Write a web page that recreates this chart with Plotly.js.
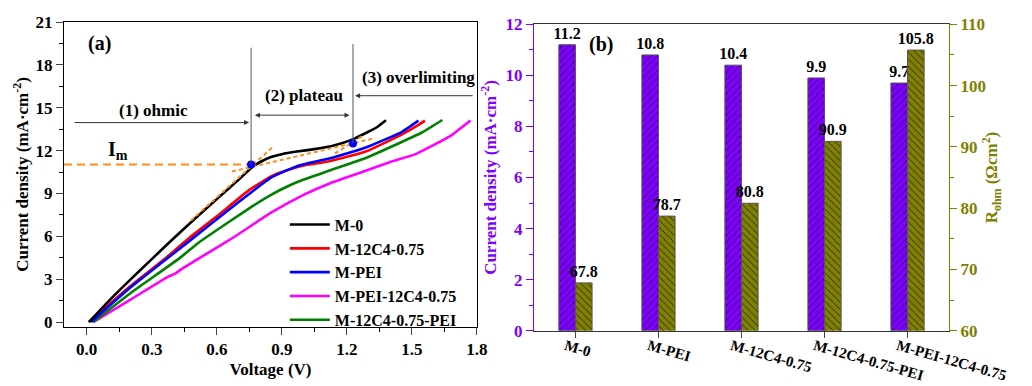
<!DOCTYPE html>
<html>
<head>
<meta charset="utf-8">
<script src="https://cdn.plot.ly/plotly-3.0.1.min.js"></script>
<style>
  html, body { margin: 0; padding: 0; background: #fff; }
  #chart { width: 1032px; height: 386px; }
</style>
</head>
<body>
<div id="chart"></div>
<script>
// ---------- (a) polarization curves: voltage (V) vs current density (mA·cm-2) ----------
const m0V = [0.01, 0.10, 0.20, 0.30, 0.40, 0.50, 0.60, 0.70, 0.76, 0.80, 0.85, 0.90, 0.97, 1.05, 1.14, 1.23, 1.29, 1.34, 1.38];
const m0J = [0.00, 1.45, 2.95, 4.40, 5.85, 7.25, 8.60, 9.95, 10.80, 11.20, 11.55, 11.75, 11.93, 12.10, 12.35, 12.80, 13.25, 13.65, 14.12];

const m12c4V = [0.01, 0.20, 0.35, 0.47, 0.60, 0.75, 0.85, 0.92, 1.00, 1.12, 1.29, 1.45, 1.53, 1.56];
const m12c4J = [0.00, 2.50, 4.30, 5.85, 7.40, 9.25, 10.20, 10.60, 10.95, 11.25, 11.95, 13.10, 13.80, 14.10];

const mPeiV = [0.02, 0.20, 0.35, 0.48, 0.60, 0.77, 0.85, 0.92, 0.98, 1.14, 1.29, 1.45, 1.53];
const mPeiJ = [0.00, 2.40, 4.20, 5.75, 7.20, 9.21, 10.10, 10.60, 10.96, 11.54, 12.23, 13.28, 14.10];

const mPei12c4V = [0.03, 0.20, 0.38, 0.41, 0.43, 0.55, 0.68, 0.85, 1.00, 1.12, 1.29, 1.40, 1.52, 1.68, 1.77];
const mPei12c4J = [0.00, 1.55, 3.21, 3.40, 3.63, 4.75, 5.95, 7.65, 8.90, 9.70, 10.60, 11.20, 11.77, 13.05, 14.10];

const m12c4PeiV = [0.03, 0.20, 0.43, 0.52, 0.65, 0.77, 0.85, 0.92, 0.98, 1.12, 1.29, 1.45, 1.55, 1.64];
const m12c4PeiJ = [0.00, 2.00, 4.49, 5.60, 6.95, 8.16, 8.90, 9.45, 9.85, 10.60, 11.50, 12.58, 13.30, 14.14];

// regime boundaries of M-0 (ohmic -> plateau -> overlimiting)
const transitionV = [0.758, 1.228];
const transitionJ = [11.03, 12.50];
// tangent constructions
const ohmicTanV = [0.48, 0.855];   const ohmicTanJ = [7.10, 12.20];
const plateauTanV = [0.67, 1.315]; const plateauTanJ = [10.54, 12.82];
const overTanV = [1.145, 1.28];    const overTanJ = [11.80, 13.10];
const voltageAxisMin = -0.105;

// ---------- (b) limiting current density and ohmic resistance ----------
const membranes = ['M-0', 'M-PEI', 'M-12C4-0.75', 'M-12C4-0.75-PEI', 'M-PEI-12C4-0.75'];
const limitingCurrent = [11.2, 10.8, 10.4, 9.9, 9.7];
const ohmicResistance = [67.8, 78.7, 80.8, 90.9, 105.8];

const SERIF = 'Liberation Serif, Times New Roman, serif';
const PURPLE = '#8000ff';
const OLIVE = '#808000';
const ORANGE = '#ff8c1a';
const bold = (size, color) => ({ family: SERIF, size: size, color: color || '#000', weight: 'bold' });

function curve(name, v, j, color, rank) {
  return {
    type: 'scatter', mode: 'lines', name: name, x: v, y: j,
    xaxis: 'x', yaxis: 'y', legendrank: rank,
    line: { color: color, width: 2.6, shape: 'spline', smoothing: 0.4 },
    hoverinfo: 'skip'
  };
}
function guide(v, j, dash, width) {
  return {
    type: 'scatter', mode: 'lines', x: v, y: j, xaxis: 'x', yaxis: 'y',
    line: { color: ORANGE, width: width, dash: dash }, showlegend: false, hoverinfo: 'skip'
  };
}
function hatchedBars(values, axis, color, shape, offset) {
  return {
    type: 'bar', x: membranes, y: values, xaxis: 'x2', yaxis: axis,
    width: 0.2, offset: offset, showlegend: false, hoverinfo: 'skip',
    marker: { color: color, line: { color: '#555', width: 1 },
              pattern: { shape: shape, bgcolor: color, fgcolor: '#000', fgopacity: 1,
                         fillmode: 'replace', size: 5, solidity: 0.13 } },
    text: values.map(v => v.toFixed(1)), textposition: 'outside',
    constraintext: 'none', textfont: bold(16)
  };
}

const traces = [
  curve('M-PEI-12C4-0.75', mPei12c4V, mPei12c4J, '#ff00ff', 4),
  curve('M-12C4-0.75-PEI', m12c4PeiV, m12c4PeiJ, '#008000', 5),
  curve('M-12C4-0.75', m12c4V, m12c4J, '#ff0000', 2),
  curve('M-PEI', mPeiV, mPeiJ, '#0000ff', 3),
  curve('M-0', m0V, m0J, '#000000', 1),
  guide([voltageAxisMin, transitionV[0]], [transitionJ[0], transitionJ[0]], '8px,5px', 2),
  guide(ohmicTanV, ohmicTanJ, '4px,3px', 2),
  guide(plateauTanV, plateauTanJ, '4px,3px', 2),
  guide(overTanV, overTanJ, '4px,3px', 2),
  {
    type: 'scatter', mode: 'markers', x: transitionV, y: transitionJ, xaxis: 'x', yaxis: 'y',
    marker: { color: '#0000ff', size: 8 }, showlegend: false, hoverinfo: 'skip'
  },
  hatchedBars(limitingCurrent, 'y2', PURPLE, '/', -0.2),
  hatchedBars(ohmicResistance, 'y3', OLIVE, '\\', 0)
];

const tickCommon = { ticks: 'outside', ticklen: 7, tickwidth: 1, showgrid: false, zeroline: false, showline: true, linewidth: 1 };

const arrowStyle = { showarrow: true, arrowhead: 2, arrowsize: 1, arrowwidth: 1, arrowcolor: '#333', text: '',
                     xref: 'x', yref: 'y', axref: 'x', ayref: 'y' };

const layout = {
  width: 1032, height: 386,
  margin: { l: 0, r: 0, t: 0, b: 0 },
  paper_bgcolor: '#fff', plot_bgcolor: '#fff',
  font: bold(17),
  showlegend: true,
  legend: { x: 0.276, y: 0.462, xanchor: 'left', yanchor: 'top', bgcolor: 'rgba(0,0,0,0)',
            font: bold(16), itemwidth: 40, tracegroupgap: 0 },
  xaxis: Object.assign({}, tickCommon, {
    domain: [0.062, 0.4622], anchor: 'y', range: [voltageAxisMin, 1.8],
    tick0: 0, dtick: 0.3, tickformat: '.1f', mirror: true, linecolor: '#000',
    minor: { dtick: 0.15, ticks: 'outside', ticklen: 4, tickcolor: '#000' },
    tickfont: bold(17), title: { text: 'Voltage (V)', font: bold(17), standoff: 4 }
  }),
  yaxis: Object.assign({}, tickCommon, {
    domain: [0.1528, 0.943], anchor: 'x', range: [-0.35, 21],
    tick0: 0, dtick: 3, mirror: true, linecolor: '#000',
    minor: { dtick: 1.5, ticks: 'outside', ticklen: 4, tickcolor: '#000' },
    tickfont: bold(17), title: { text: 'Current density (mA·cm<sup>-2</sup>)', font: bold(17), standoff: 2 }
  }),
  xaxis2: Object.assign({}, tickCommon, {
    domain: [0.5174, 0.9196], anchor: 'y2', type: 'category', range: [-0.5, 4.5],
    tickangle: 16, ticklabelstandoff: -6, ticklabelshift: -10,
    mirror: true, linecolor: '#333', ticklen: 6, tickfont: bold(15)
  }),
  yaxis2: Object.assign({}, tickCommon, {
    domain: [0.1433, 0.937], anchor: 'x2', range: [0, 12], tick0: 0, dtick: 2,
    linecolor: PURPLE, tickcolor: PURPLE, tickfont: bold(17, PURPLE),
    minor: { dtick: 1, ticks: 'outside', ticklen: 4, tickcolor: PURPLE },
    title: { text: 'Current density (mA·cm<sup>-2</sup>)', font: bold(17, PURPLE), standoff: 4 }
  }),
  yaxis3: Object.assign({}, tickCommon, {
    overlaying: 'y2', side: 'right', anchor: 'x2', range: [60, 110], tick0: 60, dtick: 10,
    linecolor: OLIVE, tickcolor: OLIVE, tickfont: bold(17, OLIVE),
    minor: { dtick: 5, ticks: 'outside', ticklen: 4, tickcolor: OLIVE },
    title: { text: 'R<sub>ohm</sub> (Ωcm<sup>2</sup>)', font: bold(17, OLIVE), standoff: 0 }
  }),
  shapes: [
    { type: 'line', xref: 'x', yref: 'y', x0: transitionV[0], x1: transitionV[0], y0: transitionJ[0], y1: 19.2,
      line: { color: '#555', width: 1 } },
    { type: 'line', xref: 'x', yref: 'y', x0: transitionV[1], x1: transitionV[1], y0: transitionJ[1], y1: 19.45,
      line: { color: '#555', width: 1 } }
  ],
  annotations: [
    Object.assign({}, arrowStyle, { x: 0.749, y: 13.96, ax: -0.063, ay: 13.96 }),
    Object.assign({}, arrowStyle, { x: 1.212, y: 14.48, ax: 0.769, ay: 14.48, arrowside: 'end+start' }),
    Object.assign({}, arrowStyle, { x: 1.238, y: 15.84, ax: 1.787, ay: 15.84 }),
    { xref: 'x', yref: 'y', x: 0.306, y: 14.79, text: '(1) ohmic', showarrow: false, font: bold(17) },
    { xref: 'x', yref: 'y', x: 1.0, y: 15.84, text: '(2) plateau', showarrow: false, font: bold(17) },
    { xref: 'x', yref: 'y', x: 1.53, y: 17.1, text: '(3) overlimiting', showarrow: false, font: bold(17) },
    { xref: 'x', yref: 'y', x: 0.057, y: 19.47, text: '(a)', showarrow: false, font: bold(20) },
    { xref: 'x', yref: 'y', x: 0.145, y: 12.0, text: 'I<sub>m</sub>', showarrow: false, font: bold(20) },
    { xref: 'x2', yref: 'y2', x: 0.31, y: 11.2, text: '(b)', showarrow: false, font: bold(20) }
  ]
};

Plotly.newPlot('chart', traces, layout, { staticPlot: true, displayModeBar: false });
</script>
</body>
</html>
